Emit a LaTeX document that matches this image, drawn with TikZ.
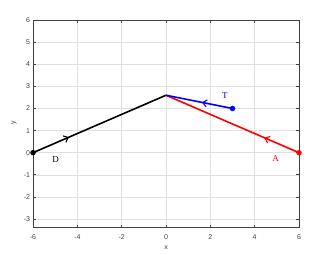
\documentclass[tikz,border=0pt]{standalone}
\usepackage{fontspec}
\setmainfont{Liberation Serif}
\setsansfont{Liberation Sans}
\usetikzlibrary{arrows.meta,decorations.markings}
\definecolor{axgray}{HTML}{404040}
\definecolor{gridgray}{HTML}{E0E0E0}
\definecolor{mblue}{HTML}{0000FF}
\definecolor{mred}{HTML}{FF0000}
\tikzset{
  gridline/.style={gridgray, line width=0.5pt},
  axisbox/.style={axgray, line width=0.7pt},
  ticklabel/.style={font=\sffamily\fontsize{7}{8}\selectfont, text=axgray, inner sep=1pt},
  vec/.style={line width=1.6pt},
  midarrow/.style={postaction={decorate, decoration={markings,
     mark=at position #1 with {\arrow{Straight Barb[length=4pt,width=7pt,line width=1.1pt]}}}}},
  dot/.style={circle, fill, inner sep=0pt, minimum size=5.5pt},
  veclabel/.style={font=\fontsize{9}{10}\selectfont, inner sep=0pt}
}
\begin{document}
\begin{tikzpicture}[x=22.17pt, y=22.1pt]
\useasboundingbox (-7.489,-4.63) rectangle (7.398,6.91);
% grid
\foreach \gx in {-4,-2,0,2,4} \draw[gridline] (\gx,-3.4) -- (\gx,6);
\foreach \gy in {-3,...,5} \draw[gridline] (-6,\gy) -- (6,\gy);
% box and ticks
\draw[axisbox] (-6,-3.4) rectangle (6,6);
\foreach \gx in {-6,-4,...,6} {
  \draw[axisbox] (\gx,-3.4) -- ++(0,0.13);
  \draw[axisbox] (\gx,6) -- ++(0,-0.13);
  \node[ticklabel] (xt\gx) at (\gx,-3.8) {\gx};
}
\foreach \gy in {-3,...,6} {
  \draw[axisbox] (-6,\gy) -- ++(0.13,0);
  \draw[axisbox] (6,\gy) -- ++(-0.13,0);
  \node[ticklabel, anchor=east] (yt\gy) at (-6.08,\gy) {\gy};
}
\node[ticklabel] (xlab) at (0,-4.31) {x};
\node[ticklabel, rotate=90] (ylab) at (-6.86,1.34) {y};
% points
\coordinate (O) at (0,2.6);
\node[dot, black] (D) at (-6,0) {};
\node[dot, mred] (A) at (6,0) {};
\node[dot, mblue] (T) at (3,2) {};
% vectors
\draw[vec, black, midarrow=0.27] (D.center) -- (O);
\draw[vec, mred, midarrow=0.26] (A.center) -- (O);
\draw[vec, mblue, midarrow=0.46] (T.center) -- (O);
% labels
\node[veclabel, black] (Dl) at (-4.98,-0.3) {D};
\node[veclabel, mred] (Al) at (4.95,-0.27) {A};
\node[veclabel, mblue] (Tl) at (2.66,2.58) {T};
\end{tikzpicture}
\end{document}
